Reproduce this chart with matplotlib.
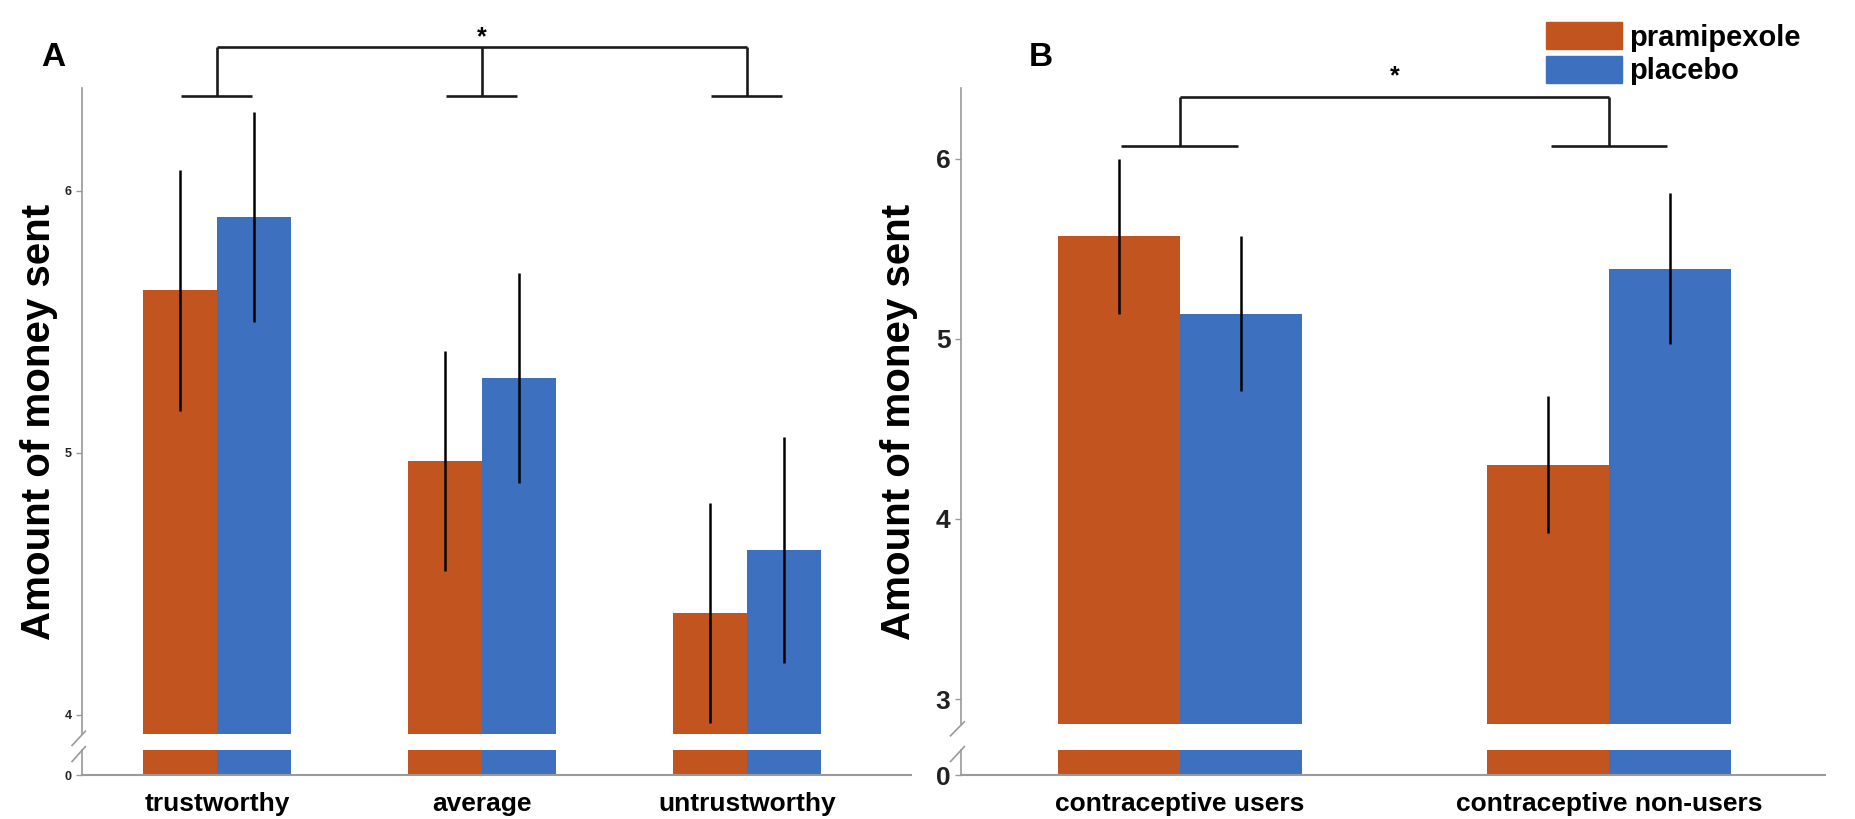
import matplotlib.pyplot as plt
from matplotlib.patches import Patch
import numpy as np

plt.rcParams['font.family'] = ['Liberation Sans', 'DejaVu Sans']

# panel A
cats_a = ['trustworthy', 'average', 'untrustworthy']
prami_a = [5.62, 4.97, 4.39]
prami_a_err = [0.46, 0.42, 0.42]
placebo_a = [5.90, 5.285, 4.63]
placebo_a_err = [0.40, 0.40, 0.43]

# panel B
cats_b = ['contraceptive users', 'contraceptive non-users']
prami_b = [5.57, 4.30]
prami_b_err = [0.43, 0.38]
placebo_b = [5.14, 5.39]
placebo_b_err = [0.43, 0.42]

c_pram = '#c2541f'
c_plac = '#3d71bf'
gray = '#9a9a9a'

fig = plt.figure(figsize=(18.55, 8.19), dpi=100)


def panel(left, width, low_bot, up_bot, top, cats, pv, pe, qv, qe, xlim, ylim, yticks,
          tick_fs, w):
    up = fig.add_axes([left, up_bot, width, top - up_bot])
    lo = fig.add_axes([left, low_bot, width, 0.0303])
    x = np.arange(len(cats))
    for ax in (up, lo):
        ax.bar(x - w / 2, pv, w, color=c_pram)
        ax.bar(x + w / 2, qv, w, color=c_plac)
        ax.set_xlim(*xlim)
        for s in ('top', 'right'):
            ax.spines[s].set_visible(False)
        ax.spines['left'].set_color(gray)
        ax.spines['left'].set_linewidth(1.2)
        ax.spines['bottom'].set_color(gray)
        ax.spines['bottom'].set_linewidth(1.5)
        ax.tick_params(axis='y', colors=gray, labelcolor='#222222',
                       labelsize=tick_fs, length=4, width=1)
    up.errorbar(x - w / 2, pv, yerr=pe, fmt='none', ecolor='black', elinewidth=1.8,
                capsize=0)
    up.errorbar(x + w / 2, qv, yerr=qe, fmt='none', ecolor='black', elinewidth=1.8,
                capsize=0)
    up.set_ylim(*ylim)
    up.set_yticks(yticks)
    up.set_yticklabels([str(v) for v in yticks], fontweight='bold')
    up.spines['bottom'].set_visible(False)
    up.set_xticks([])
    lo.set_ylim(0, 0.3)
    lo.set_yticks([0])
    lo.set_yticklabels(['0'], fontweight='bold')
    lo.set_xticks(x)
    lo.set_xticklabels(cats, fontsize=19, fontweight='bold')
    lo.tick_params(axis='x', length=0, pad=12)
    # break marks
    kw = dict(transform=up.transAxes, color=gray, lw=1.2, clip_on=False)
    up.plot([-0.012, 0.004], [-0.018, 0.004], **kw)
    kw['transform'] = lo.transAxes
    lo.plot([-0.012, 0.004], [0.55, 1.15], **kw)
    return up, lo, x


up_a, lo_a, xa = panel(0.0442, 0.447, 0.0535, 0.104, 0.892, cats_a, prami_a, prami_a_err,
                       placebo_a, placebo_a_err, (-0.509, 2.62), (3.928, 6.39), [4, 5, 6],
                       9, 0.28)
up_b, lo_b, xb = panel(0.518, 0.466, 0.0535, 0.1156, 0.892, cats_b, prami_b, prami_b_err,
                       placebo_b, placebo_b_err, (-0.51, 1.504), (2.86, 6.39), [3, 4, 5, 6],
                       19, 0.284)

# significance brackets
bk = dict(color='#1a1a1a', lw=1.9, clip_on=False, solid_capstyle='butt')
for xi in xa:
    up_a.plot([xi - 0.134, xi + 0.134], [6.362, 6.362], **bk)
    up_a.plot([xi, xi], [6.362, 6.548], **bk)
up_a.plot([xa[0], xa[-1]], [6.548, 6.548], **bk)
up_a.text(xa[1], 6.585, '*', ha='center', va='center', fontsize=18, fontweight='bold')

for xi in xb:
    up_b.plot([xi - 0.136, xi + 0.136], [6.07, 6.07], **bk)
    up_b.plot([xi, xi], [6.07, 6.34], **bk)
up_b.plot([xb[0], xb[-1]], [6.34, 6.34], **bk)
up_b.text((xb[0] + xb[1]) / 2, 6.46, '*', ha='center', va='center', fontsize=18,
          fontweight='bold')

# labels
for xf in (0.021, 0.4845):
    fig.text(xf, 0.485, 'Amount of money sent', rotation=90, ha='center', va='center',
             fontsize=29, fontweight='bold')
fig.text(0.0287, 0.93, 'A', ha='center', va='center', fontsize=24, fontweight='bold')
fig.text(0.561, 0.93, 'B', ha='center', va='center', fontsize=24, fontweight='bold')

handles = [Patch(color=c_pram, label='pramipexole'), Patch(color=c_plac, label='placebo')]
fig.legend(handles=handles, loc='upper right', bbox_to_anchor=(0.985, 1.005), frameon=False,
           prop={'size': 21, 'weight': 'bold'}, handlelength=2.6, handleheight=1.05,
           handletextpad=0.25, labelspacing=0.15)

fig.savefig('out.png', dpi=100)
